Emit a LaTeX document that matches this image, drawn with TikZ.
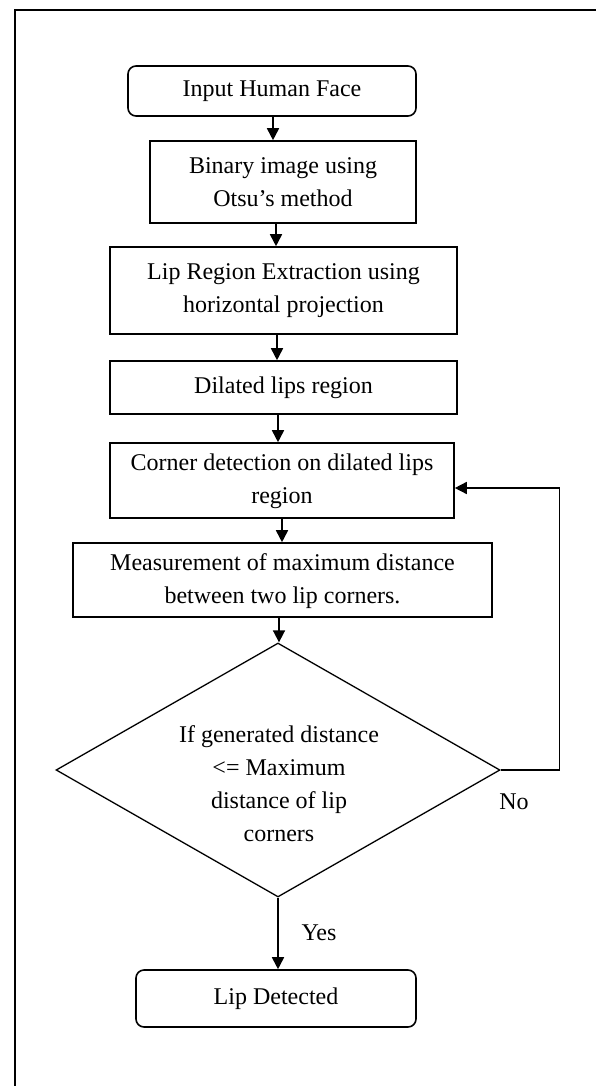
\documentclass[tikz,border=0pt]{standalone}
\usepackage{fontspec}
\setmainfont{Liberation Serif}
\usetikzlibrary{arrows.meta,shapes.geometric}
\begin{document}
\begin{tikzpicture}[x=1pt,y=-1pt,
  font=\fontsize{24}{33}\selectfont,
  procbox/.style={draw,line width=1.6pt,inner sep=0pt,align=center},
  termbox/.style={procbox,rounded corners=8pt},
  decbox/.style={draw,diamond,line width=1.3pt,inner sep=0pt,aspect=1.75},
  plain/.style={inner sep=0pt,align=center},
  arr/.style={line width=1.7pt,-{Triangle[length=12pt,width=12pt]}},
  fbline/.style={line width=1.5pt,-{Triangle[length=12pt,width=12pt]}}
]
\useasboundingbox (0,0) rectangle (596,1086);
% outer frame
\draw[line width=2pt] (15,1086) -- (15,10) -- (596,10);

\node[termbox,minimum width=288pt,minimum height=50pt] (start) at (272,91) {Input Human Face};
\node[procbox,minimum width=266pt,minimum height=82pt] (bin) at (283,182) {Binary image using\\Otsu’s method};
\node[procbox,minimum width=347pt,minimum height=87pt] (lipreg) at (283.5,290.5) {Lip Region Extraction using\\horizontal projection};
\node[procbox,minimum width=347pt,minimum height=53pt] (dil) at (283.5,387.5) {Dilated lips region};
\node[procbox,minimum width=344pt,minimum height=75pt] (corner) at (282,480.5) {\raisebox{-3pt}{\begin{tabular}{@{}c@{}}Corner detection on dilated lips\\region\end{tabular}}};
\node[procbox,minimum width=419pt,minimum height=74pt] (meas) at (282.5,580) {\raisebox{-4pt}{\begin{tabular}{@{}c@{}}Measurement of maximum distance\\between two lip corners.\end{tabular}}};
\node[decbox,minimum width=444pt,minimum height=254pt] (dec) at (278,770) {};
\node[plain] (dectext) at (279,784) {If generated distance\\<= Maximum\\distance of lip\\corners};
\node[termbox,minimum width=280pt,minimum height=57pt] (done) at (276,998.5) {Lip Detected};

\node[plain] (nolab) at (514,802) {No};
\node[plain] (yeslab) at (319,933) {Yes};

\draw[arr] ([xshift=1pt]start.south) -- ([xshift=1pt]start.south |- bin.north);
\draw[arr] ([xshift=-7pt]bin.south) -- ([xshift=-7pt]bin.south |- lipreg.north);
\draw[arr] ([xshift=-6.5pt]lipreg.south) -- ([xshift=-6.5pt]lipreg.south |- dil.north);
\draw[arr] ([xshift=-5.5pt]dil.south) -- ([xshift=-5.5pt]dil.south |- corner.north);
\draw[arr] (corner.south) -- (corner.south |- meas.north);
\draw[arr] ([xshift=-3.5pt]meas.south) -- ([xshift=-3.5pt]meas.south |- dec.north);
\draw[arr] (dec.south) -- (dec.south |- done.north);
\draw[fbline] (dec.east) -- ++(59,0) |- ([yshift=-7.5pt]corner.east);
\end{tikzpicture}
\end{document}
